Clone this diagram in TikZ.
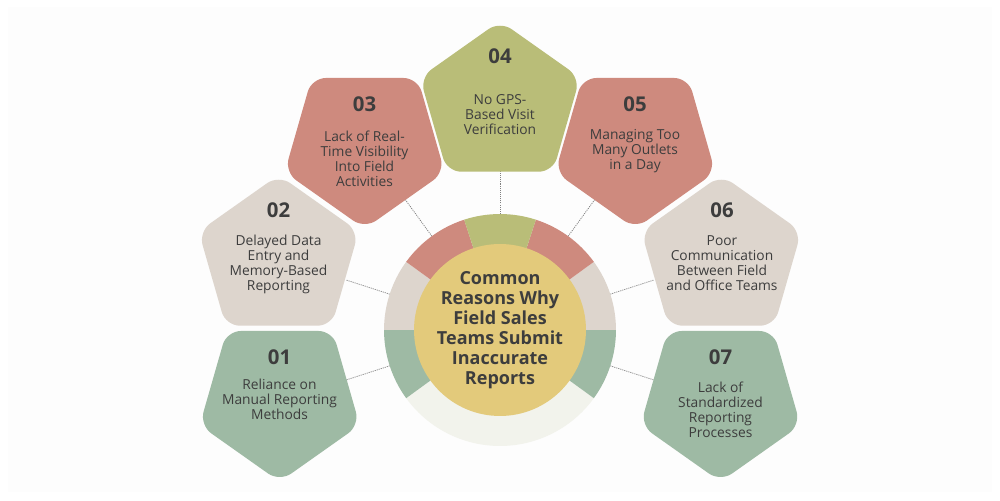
\documentclass[tikz,border=0pt]{standalone}
\usepackage{fontspec}
\setmainfont{Open Sans}
\definecolor{leaf}{HTML}{9EBAA4}
\definecolor{sand}{HTML}{DDD5CD}
\definecolor{clay}{HTML}{CE8A7E}
\definecolor{moss}{HTML}{B9BD78}
\definecolor{honey}{HTML}{E3CA7B}
\definecolor{pale}{HTML}{F2F3EC}
\definecolor{ink}{HTML}{3D3D3D}
\definecolor{panel}{HTML}{FDFDFD}
\tikzset{
  petalnum/.style={text=ink,font=\fontsize{11.6}{13}\selectfont\bfseries,inner sep=0pt},
  petaltxt/.style={text=ink,font=\fontsize{7.85}{8.53}\selectfont,align=center,inner sep=0pt},
  hubtxt/.style={circle,fill=honey,minimum size=3.44cm,inner sep=0pt,text=ink,align=center,
    font=\fontsize{10.25}{11.38}\selectfont\bfseries},
  spoke/.style={gray,line width=0.45pt,dash pattern=on 0.6pt off 0.6pt}
}
% petal: name, centre x, centre y, direction, colour
\newcommand{\petal}[5]{
  \fill [#5,rounded corners=8pt,shift={(#2,#3)},yscale=#4]
    (0,82) -- (80,25.5) -- (53,-68.7) -- (-53,-68.7) -- (-80,25.5) -- cycle;
}
% ring piece: start angle, end angle, colour
\newcommand{\ringpiece}[3]{
  \fill [#3] (centre) -- ++(#1:2.32cm) arc [start angle=#1,end angle=#2,radius=2.32cm] -- cycle;
}
\begin{document}
\begin{tikzpicture}[x=0.02cm,y=0.02cm]
\useasboundingbox [fill=white] (0,0) rectangle (1000,500);
\fill [panel] (8,8) rectangle (992,493);
\coordinate (centre) at (500,170);

% spokes
\coordinate (in01) at ([shift={(198:2.32cm)}]centre);
\coordinate (out01) at ([shift={(198:3.24cm)}]centre);
\coordinate (in02) at ([shift={(162:2.32cm)}]centre);
\coordinate (out02) at ([shift={(162:3.24cm)}]centre);
\coordinate (in03) at ([shift={(126:2.32cm)}]centre);
\coordinate (out03) at ([shift={(126:3.24cm)}]centre);
\coordinate (in04) at ([shift={(90:2.32cm)}]centre);
\coordinate (out04) at ([shift={(90:3.24cm)}]centre);
\coordinate (in05) at ([shift={(54:2.32cm)}]centre);
\coordinate (out05) at ([shift={(54:3.24cm)}]centre);
\coordinate (in06) at ([shift={(18:2.32cm)}]centre);
\coordinate (out06) at ([shift={(18:3.24cm)}]centre);
\coordinate (in07) at ([shift={(-18:2.32cm)}]centre);
\coordinate (out07) at ([shift={(-18:3.24cm)}]centre);
\draw [spoke] (in01) -- (out01);
\draw [spoke] (in02) -- (out02);
\draw [spoke] (in03) -- (out03);
\draw [spoke] (in04) -- (out04);
\draw [spoke] (in05) -- (out05);
\draw [spoke] (in06) -- (out06);
\draw [spoke] (in07) -- (out07);

% ring
\ringpiece{216}{324}{pale}
\ringpiece{180}{216}{leaf}
\ringpiece{-36}{0}{leaf}
\ringpiece{144}{180}{sand}
\ringpiece{0}{36}{sand}
\ringpiece{108}{144}{clay}
\ringpiece{36}{72}{clay}
\ringpiece{72}{108}{moss}
\node (hub) [hubtxt] at (centre) {Common\\Reasons Why\\Field Sales\\Teams Submit\\Inaccurate\\Reports};

% petals
\petal{01}{279.7}{100.3}{-1}{leaf}
\petal{02}{278.7}{243}{1}{sand}
\petal{03}{364.7}{353.3}{-1}{clay}
\petal{04}{500}{397}{1}{moss}
\petal{05}{635.3}{353.3}{-1}{clay}
\petal{06}{721.3}{243}{1}{sand}
\petal{07}{720.5}{100.3}{-1}{leaf}

\node (num01) [petalnum] at (279.5,142.5) {01};
\node (txt01) [petaltxt] at (279.5,101) {Reliance on\\Manual Reporting\\Methods};
\node (num02) [petalnum] at (278.5,289.5) {02};
\node (txt02) [petaltxt] at (278.5,235.5) {Delayed Data\\Entry and\\Memory-Based\\Reporting};
\node (num03) [petalnum] at (364.5,395.5) {03};
\node (txt03) [petaltxt] at (364.5,341.5) {Lack of Real-\\Time Visibility\\Into Field\\Activities};
\node (num04) [petalnum] at (500,443.5) {04};
\node (txt04) [petaltxt] at (500,385) {No GPS-\\Based Visit\\Verification};
\node (num05) [petalnum] at (635,395.5) {05};
\node (txt05) [petaltxt] at (635,349) {Managing Too\\Many Outlets\\in a Day};
\node (num06) [petalnum] at (722,289.5) {06};
\node (txt06) [petaltxt] at (722,236.5) {Poor\\Communication\\Between Field\\and Office Teams};
\node (num07) [petalnum] at (720.5,142.5) {07};
\node (txt07) [petaltxt] at (720.5,90.5) {Lack of\\Standardized\\Reporting\\Processes};
\end{tikzpicture}
\end{document}
